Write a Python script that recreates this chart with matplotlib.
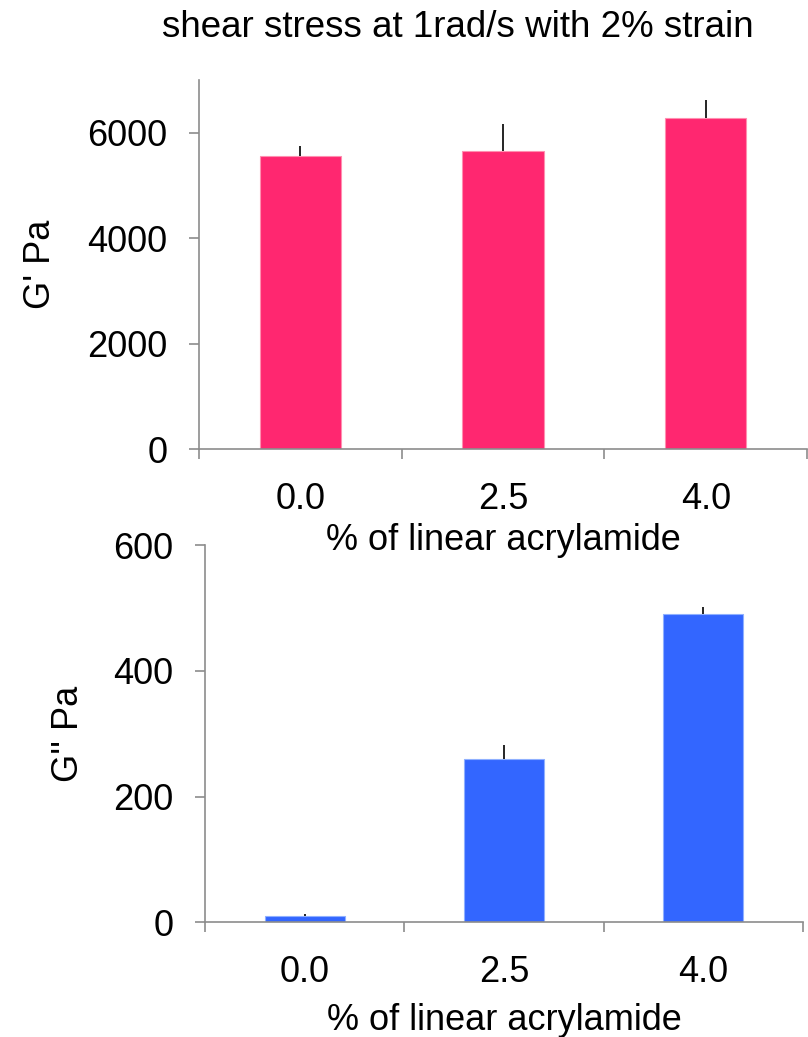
import matplotlib.pyplot as plt
import numpy as np

plt.rcParams['font.family'] = ['Liberation Sans', 'DejaVu Sans']

# data
categories = ["0.0", "2.5", "4.0"]
g_prime = [5560, 5650, 6270]
g_prime_err = [195, 510, 350]
g_double = [10, 260, 490]
g_double_err = [4, 22, 11]

pink = "#FF2770"
blue = "#3366FF"
grey = "#8c8c8c"
fs = 26


def style_axes(ax, ymax, yticks):
    pos = np.arange(len(categories)) + 0.5
    ax.set_xlim(0, len(categories))
    ax.set_ylim(0, ymax)
    ax.set_yticks(yticks)
    # boundary ticks between categories, labels in the middle
    ax.set_xticks(np.arange(len(categories) + 1))
    ax.set_xticklabels([])
    ax.set_xticks(pos, minor=True)
    ax.set_xticklabels(categories, minor=True)
    ax.tick_params(axis='x', which='minor', length=0, pad=23.5, labelsize=fs)
    ax.tick_params(axis='x', which='major', length=7.5, width=1.2, color=grey)
    ax.tick_params(axis='y', length=7, width=1.2, color=grey, labelsize=fs, pad=15.5)
    for s in ['top', 'right']:
        ax.spines[s].set_visible(False)
    for s in ['left', 'bottom']:
        ax.spines[s].set_color(grey)
        ax.spines[s].set_linewidth(1.2)
    ax.patch.set_visible(False)
    return pos


fig = plt.figure(figsize=(8.08, 10.37), dpi=100)

# G' panel
ax1 = fig.add_axes([0.246, 0.567, 0.753, 0.356])
pos = style_axes(ax1, 7000, [0, 2000, 4000, 6000])
ax1.bar(pos, g_prime, width=0.4, color=pink, edgecolor="#ff8fb0", linewidth=0.8)
ax1.errorbar(pos, g_prime, yerr=[np.zeros(3), g_prime_err], fmt='none',
             ecolor='black', elinewidth=1.2, capsize=0)
ax1.set_ylabel("G' Pa", fontsize=fs, labelpad=21)
ax1.set_xlabel("% of linear acrylamide", fontsize=fs, labelpad=4.5)

# G'' panel
ax2 = fig.add_axes([0.2537, 0.1106, 0.740, 0.3638])
pos = style_axes(ax2, 600, [0, 200, 400, 600])
ax2.bar(pos, g_double, width=0.4, color=blue, edgecolor="#8fb0ff", linewidth=0.8)
ax2.errorbar(pos, g_double, yerr=[np.zeros(3), g_double_err], fmt='none',
             ecolor='black', elinewidth=1.2, capsize=0)
ax2.set_ylabel("G'' Pa", fontsize=fs, labelpad=20)
ax2.set_xlabel("% of linear acrylamide", fontsize=fs, labelpad=9.5)

fig.text(0.567, 0.973, "shear stress at 1rad/s with 2% strain",
         ha='center', va='center', fontsize=26.5)

fig.savefig("out.png", dpi=100)
